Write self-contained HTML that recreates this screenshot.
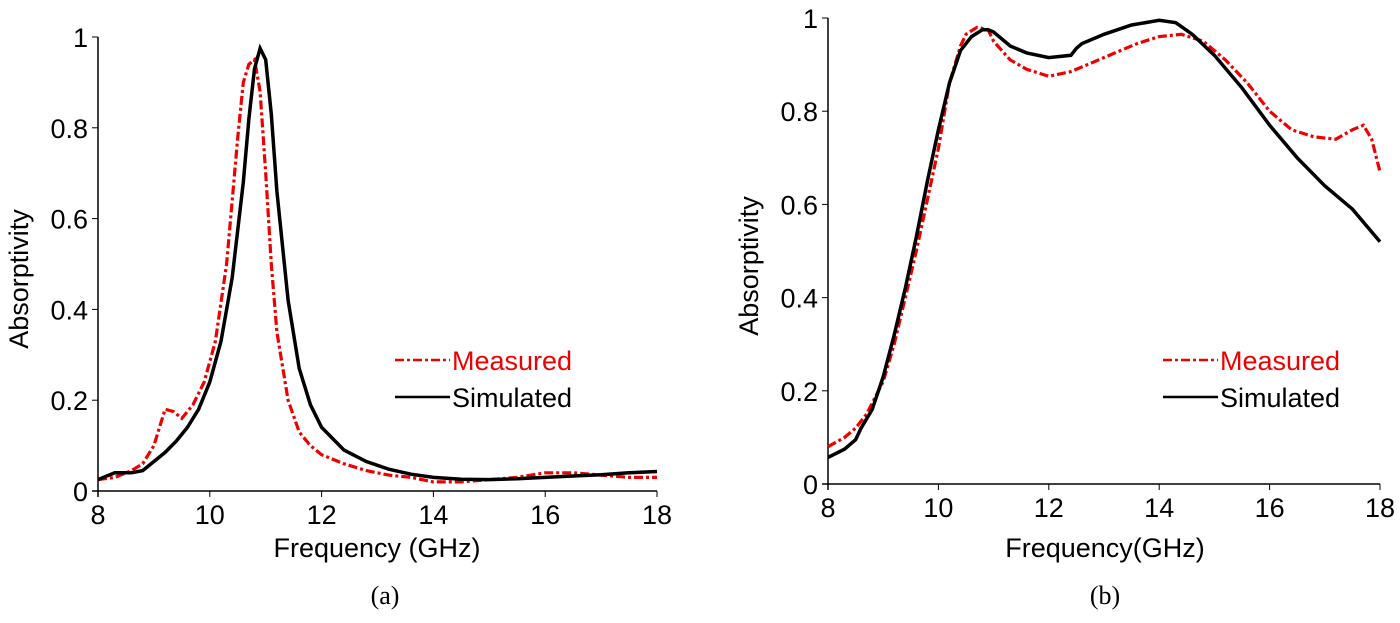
<!DOCTYPE html>
<html><head><meta charset="utf-8"><style>
body{margin:0;background:#fff;width:1400px;height:618px;overflow:hidden}
svg text{font-family:"Liberation Sans",sans-serif}
</style></head><body>
<svg id="fig" width="1400" height="618" xmlns="http://www.w3.org/2000/svg"></svg>
<script>
const xTicks=[8,10,12,14,16,18];
const yTicks=[0,0.2,0.4,0.6,0.8,1];
const yTickLabels=["0","0.2","0.4","0.6","0.8","1"];
const aFreq=[8,8.3,8.6,8.8,9,9.2,9.4,9.6,9.8,10,10.2,10.4,10.6,10.7,10.8,10.9,11,11.1,11.2,11.4,11.6,11.8,12,12.4,12.8,13.2,13.6,14,14.5,15,15.5,16,16.5,17,17.5,18];
const aSim=[0.025,0.04,0.04,0.045,0.065,0.085,0.11,0.14,0.18,0.24,0.33,0.47,0.68,0.82,0.93,0.975,0.95,0.83,0.66,0.42,0.27,0.19,0.14,0.09,0.065,0.048,0.037,0.03,0.026,0.025,0.027,0.03,0.033,0.036,0.04,0.043];
const aMeasFreq=[8,8.3,8.6,8.8,9,9.2,9.35,9.5,9.7,9.9,10.1,10.3,10.5,10.6,10.7,10.8,10.9,11,11.1,11.2,11.4,11.6,11.8,12,12.4,12.8,13.2,13.6,14,14.5,15,15.5,16,16.5,17,17.5,18];
const aMeas=[0.025,0.03,0.045,0.06,0.1,0.18,0.175,0.16,0.19,0.24,0.33,0.5,0.78,0.9,0.94,0.95,0.88,0.7,0.5,0.35,0.2,0.13,0.1,0.08,0.06,0.045,0.035,0.03,0.02,0.02,0.025,0.03,0.04,0.04,0.035,0.03,0.03];
const bFreq=[8,8.3,8.5,8.6,8.8,9,9.2,9.4,9.6,9.8,10,10.2,10.4,10.6,10.8,10.9,11,11.3,11.6,12,12.4,12.5,12.6,13,13.5,14,14.3,14.6,15,15.5,16,16.5,17,17.5,18];
const bSim=[0.057,0.075,0.095,0.12,0.16,0.23,0.32,0.42,0.53,0.65,0.76,0.86,0.93,0.96,0.975,0.975,0.97,0.94,0.925,0.915,0.92,0.935,0.945,0.965,0.985,0.995,0.99,0.965,0.92,0.85,0.77,0.7,0.64,0.59,0.52];
const bMeasFreq=[8,8.3,8.5,8.7,9,9.2,9.4,9.6,9.8,10,10.2,10.4,10.5,10.7,10.9,11,11.3,11.6,12,12.4,12.8,13.2,13.6,14,14.4,14.8,15.2,15.6,16,16.4,16.8,17.2,17.5,17.7,17.85,18];
const bMeas=[0.08,0.1,0.12,0.15,0.22,0.3,0.4,0.5,0.61,0.72,0.86,0.94,0.965,0.98,0.975,0.95,0.91,0.89,0.875,0.885,0.905,0.925,0.945,0.96,0.965,0.95,0.91,0.86,0.8,0.76,0.745,0.74,0.76,0.77,0.74,0.67];
const NS="http://www.w3.org/2000/svg";
const svg=document.getElementById('fig');
function el(t,a,txt){const e=document.createElementNS(NS,t);for(const k in a)e.setAttribute(k,a[k]);if(txt!==undefined)e.textContent=txt;svg.appendChild(e);return e;}
function panel(p){
 const sx=v=>p.x0+(v-8)/10*(p.x1-p.x0), sy=v=>p.y0-(v)*(p.y0-p.y1);
 let e=el('line',{x1:p.x0,y1:p.y0+6,x2:p.x0,y2:p.y1,stroke:'#000','stroke-width':1.5});
 
 e=el('line',{x1:p.x0-6,y1:p.y0,x2:p.x1,y2:p.y0,stroke:'#000','stroke-width':1.5});
 
 xTicks.forEach(t=>{el('line',{x1:sx(t),y1:p.y0,x2:sx(t),y2:p.y0+6,stroke:'#000'});
  e=el('text',{x:sx(t),y:p.y0+33,'font-size':27,'text-anchor':'middle'},t);
  });
 yTicks.forEach((t,i)=>{el('line',{x1:p.x0-6,y1:sy(t),x2:p.x0,y2:sy(t),stroke:'#000'});
  e=el('text',{x:p.x0-10,y:sy(t)+10,'font-size':27,'text-anchor':'end'},yTickLabels[i]);
  });
 e=el('text',{x:p.tx,y:p.ty,'font-size':27,'text-anchor':'middle'},p.xl);
 
 e=el('text',{x:0,y:0,'font-size':27,'text-anchor':'middle',transform:`translate(${p.x0-70},${(p.y0+p.y1)/2+15}) rotate(-90)`},'Absorptivity');
 
 const path=(xs,ys)=>xs.map((x,i)=>(i?'L':'M')+sx(x).toFixed(1)+','+sy(ys[i]).toFixed(1)).join('');
 e=el('path',{d:path(p.mf,p.m),fill:'none',stroke:'#e00','stroke-width':3.2,'stroke-dasharray':'9,3,3,3'});
 
 e=el('path',{d:path(p.sf,p.s),fill:'none',stroke:'#000','stroke-width':3.5});
 
 el('line',{x1:p.lx,y1:p.ly,x2:p.lx+55,y2:p.ly,stroke:'#e00','stroke-width':2.5,'stroke-dasharray':'9,3,3,3'});
 e=el('text',{x:p.lx+57,y:p.ly+10,'font-size':27,fill:'#e00'},'Measured');
 
 el('line',{x1:p.lx,y1:p.ly+37,x2:p.lx+55,y2:p.ly+37,stroke:'#000','stroke-width':2.5});
 e=el('text',{x:p.lx+57,y:p.ly+47,'font-size':27},'Simulated');
 
 e=el('text',{x:p.cx,y:604,'font-size':26,'text-anchor':'middle',style:'font-family:"Liberation Serif",serif'},p.cap);
 
}
panel({id:'a',x0:98,x1:657,y0:491,y1:37,xl:'Frequency (GHz)',tx:377,ty:557,sf:aFreq,s:aSim,mf:aMeasFreq,m:aMeas,lx:395,ly:360,cx:385,cap:'(a)'});
panel({id:'b',x0:828,x1:1380,y0:484,y1:18,xl:'Frequency(GHz)',tx:1105,ty:557,sf:bFreq,s:bSim,mf:bMeasFreq,m:bMeas,lx:1163,ly:360,cx:1105,cap:'(b)'});
</script>
</body></html>
